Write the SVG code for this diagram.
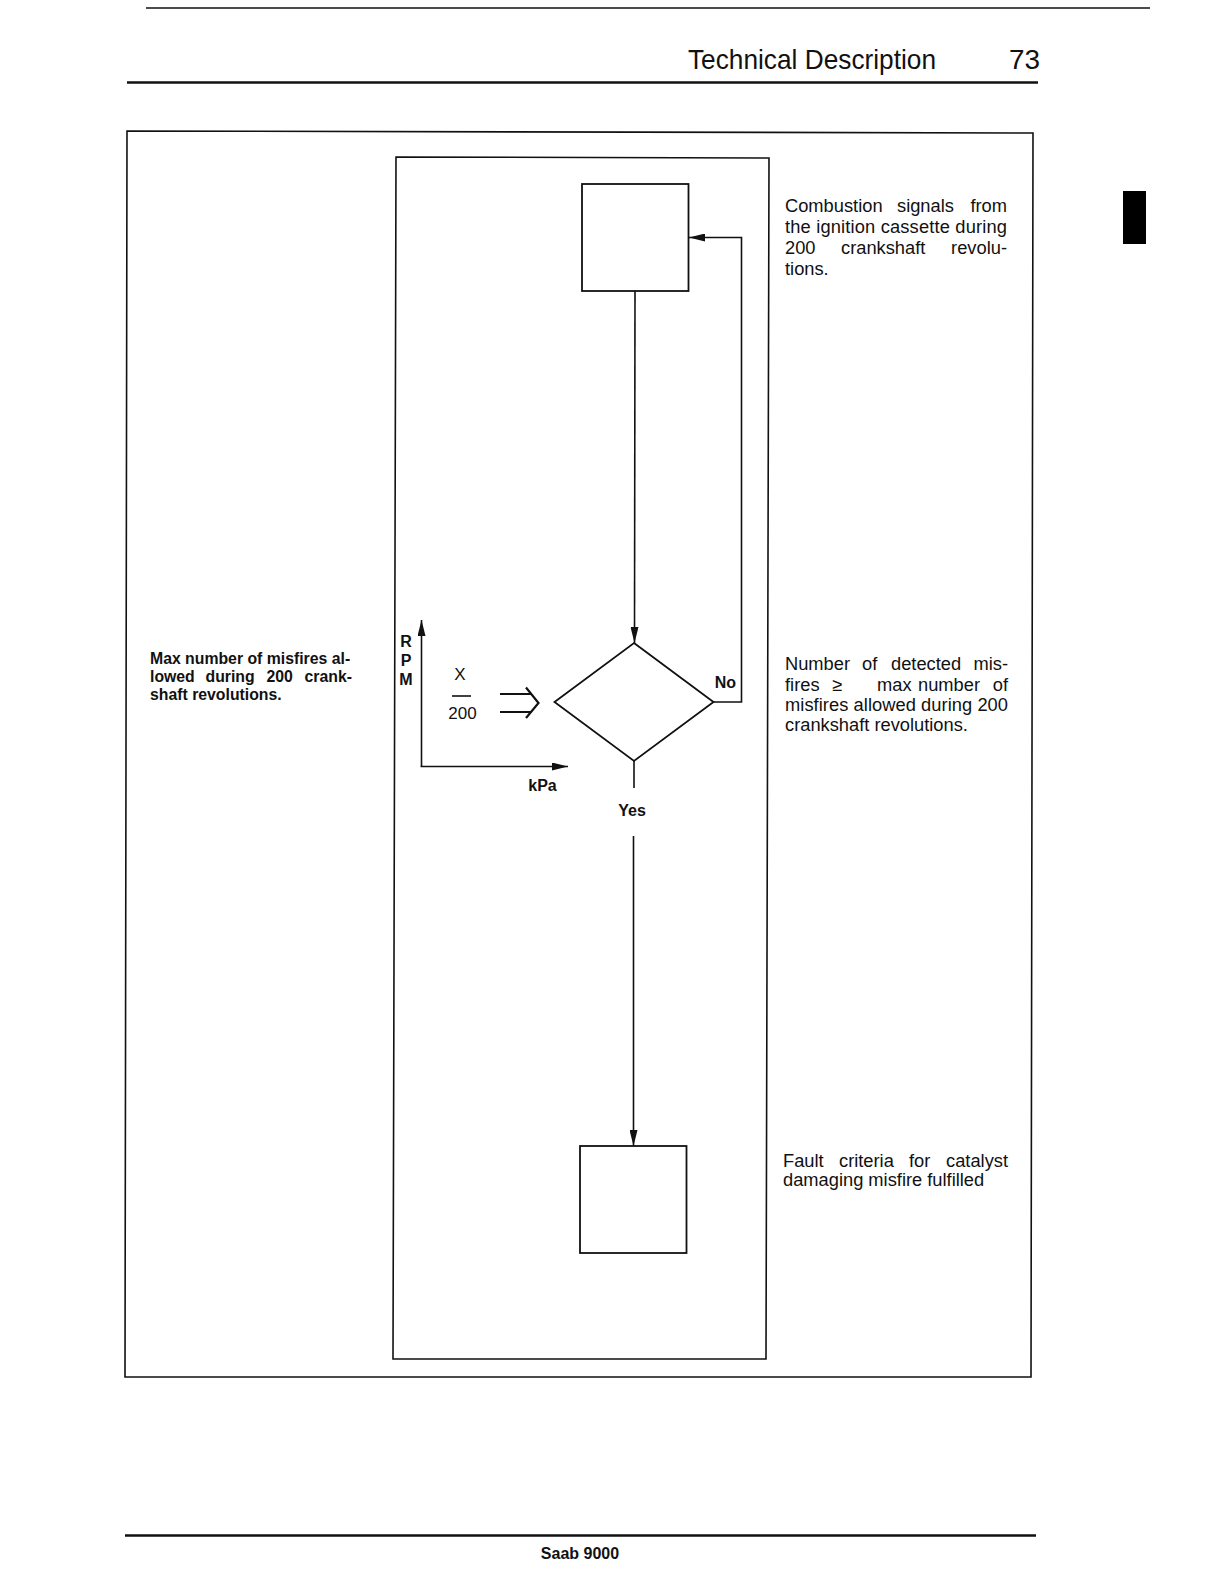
<svg xmlns="http://www.w3.org/2000/svg" width="1224" height="1584" viewBox="0 0 1224 1584">
<style>
  .ln { fill: none; stroke: #111; stroke-width: 1.6; }
  .box { fill: #fff; stroke: #111; stroke-width: 1.8; }
  .rule { fill: none; stroke: #111; stroke-width: 2.4; }
  .t { font-family: "Liberation Sans", Arial, sans-serif; fill: #111; }
  .body { font-size: 18.3px; }
  .left { font-size: 15.8px; font-weight: bold; }
  .lbl { font-size: 16px; font-weight: bold; }
  .num { font-size: 17px; }
</style>
<defs>
  <marker id="arr" viewBox="0 0 16 8" refX="16" refY="4" markerWidth="16" markerHeight="8" markerUnits="userSpaceOnUse" orient="auto">
    <path d="M0,0 L16,4 L0,8 Z" fill="#111"/>
  </marker>
</defs>
<rect width="1224" height="1584" fill="#fff"/>

<!-- page header -->
<g id="header">
  <line x1="146" y1="8" x2="1150" y2="8" stroke="#111" stroke-width="1.6"/>
  <text class="t" x="688" y="69" font-size="28" textLength="248" lengthAdjust="spacingAndGlyphs">Technical Description</text>
  <text class="t" x="1040" y="69" font-size="28" text-anchor="end" textLength="31" lengthAdjust="spacingAndGlyphs">73</text>
  <line x1="127" y1="82.5" x2="1038" y2="82.5" class="rule"/>
  <rect x="1123" y="191" width="23" height="53" fill="#000"/>
</g>

<!-- frames -->
<g id="frames">
  <path d="M127,131 L1033,133 L1031,1377 L125,1377 Z" class="ln"/>
  <path d="M396,157 L769,158 L766,1359 L393,1359 Z" class="ln"/>
</g>

<!-- nodes -->
<g id="node-start">
  <rect x="582" y="184" width="106.5" height="107" class="box"/>
</g>
<g id="node-decision">
  <path d="M634,643 L713.5,702 L634,761 L554.5,702 Z" class="box"/>
</g>
<g id="node-fault">
  <rect x="580" y="1146" width="106.5" height="107" class="box"/>
</g>

<!-- connectors -->
<g id="connectors">
  <line x1="635" y1="291" x2="634.5" y2="643" class="ln" marker-end="url(#arr)"/>
  <polyline points="713.5,702 741.5,702 741.5,237.5 689,237.5" class="ln" marker-end="url(#arr)"/>
  <line x1="634" y1="761" x2="634" y2="788" class="ln"/>
  <line x1="633.5" y1="836" x2="633.5" y2="1146" class="ln" marker-end="url(#arr)"/>
  <text class="t lbl" x="736" y="688" text-anchor="end">No</text>
  <text class="t lbl" x="632" y="816" text-anchor="middle">Yes</text>
</g>

<!-- RPM / kPa chart -->
<g id="chart">
  <line x1="421.5" y1="767" x2="421.5" y2="620" class="ln" marker-end="url(#arr)"/>
  <line x1="420.7" y1="766.5" x2="568" y2="766.5" class="ln" marker-end="url(#arr)"/>
  <text class="t lbl" x="406" y="646.5" text-anchor="middle">R</text>
  <text class="t lbl" x="406" y="665.5" text-anchor="middle">P</text>
  <text class="t lbl" x="406" y="685" text-anchor="middle">M</text>
  <text class="t num" x="460" y="680" text-anchor="middle">X</text>
  <line x1="452" y1="696" x2="471" y2="696" class="ln"/>
  <text class="t num" x="462.5" y="719" text-anchor="middle">200</text>
  <text class="t lbl" x="542.5" y="791" text-anchor="middle">kPa</text>
  <path d="M500,694 L531,694 M500,712 L531,712 M526,687.5 L538.5,703 L526,718" fill="none" stroke="#111" stroke-width="2.2"/>
</g>

<!-- left description -->
<g id="text-left">
  <text class="t left" x="150" y="663.5">Max number of misfires al-</text>
  <text class="t left" y="682">
    <tspan x="150">lowed</tspan><tspan x="205.5">during</tspan><tspan x="266.5">200</tspan><tspan x="352" text-anchor="end">crank-</tspan>
  </text>
  <text class="t left" x="150" y="700">shaft revolutions.</text>
</g>

<!-- right descriptions -->
<g id="text-combustion">
  <text class="t body" y="211.5"><tspan x="785">Combustion</tspan><tspan x="897">signals</tspan><tspan x="1007" text-anchor="end">from</tspan></text>
  <text class="t body" x="785" y="233" textLength="222" lengthAdjust="spacing">the ignition cassette during</text>
  <text class="t body" y="254"><tspan x="785">200</tspan><tspan x="841">crankshaft</tspan><tspan x="1007" text-anchor="end">revolu-</tspan></text>
  <text class="t body" x="785" y="274.5">tions.</text>
</g>
<g id="text-decision">
  <text class="t body" y="670"><tspan x="785">Number</tspan><tspan x="862">of</tspan><tspan x="891">detected</tspan><tspan x="1008" text-anchor="end">mis-</tspan></text>
  <text class="t body" y="690.5"><tspan x="785">fires</tspan><tspan x="832">≥</tspan><tspan x="877">max</tspan><tspan x="918">number</tspan><tspan x="1008" text-anchor="end">of</tspan></text>
  <text class="t body" x="785" y="711" textLength="223" lengthAdjust="spacing">misfires allowed during 200</text>
  <text class="t body" x="785" y="731">crankshaft revolutions.</text>
</g>
<g id="text-fault">
  <text class="t body" y="1166.5"><tspan x="783">Fault</tspan><tspan x="839">criteria</tspan><tspan x="909">for</tspan><tspan x="1008" text-anchor="end">catalyst</tspan></text>
  <text class="t body" x="783" y="1186">damaging misfire fulfilled</text>
</g>

<!-- footer -->
<g id="footer">
  <line x1="125" y1="1535.5" x2="1036" y2="1535.5" class="rule"/>
  <text class="t" x="580" y="1559" font-size="16" font-weight="bold" text-anchor="middle">Saab 9000</text>
</g>
</svg>
